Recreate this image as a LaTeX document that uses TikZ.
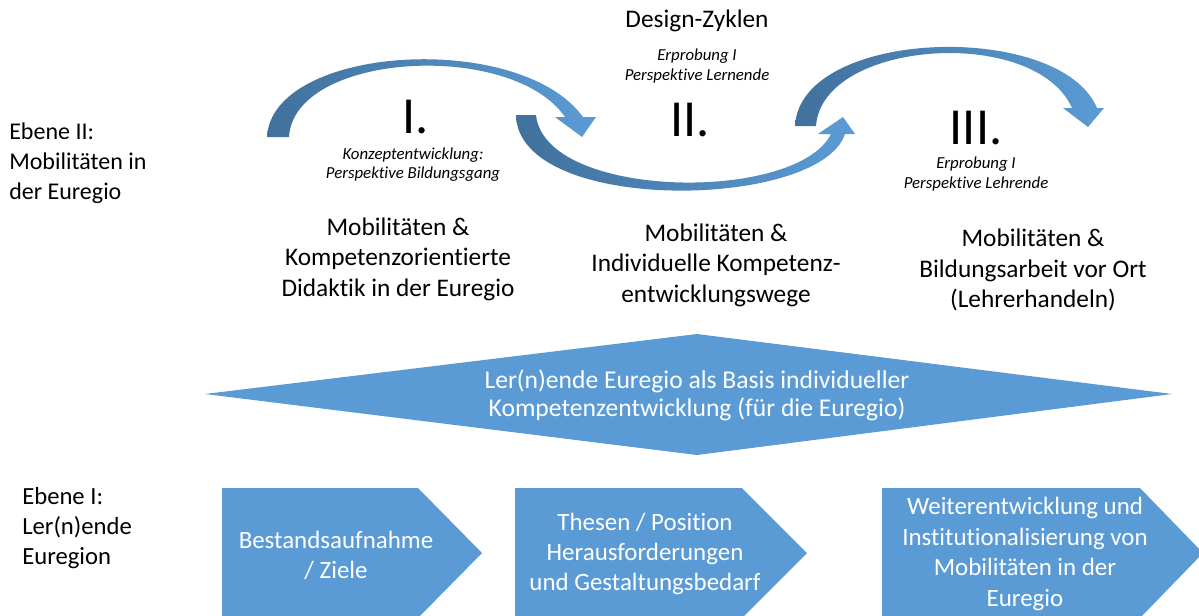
\documentclass[tikz,border=0pt]{standalone}
\usepackage{fontspec}
\setmainfont{Carlito}[Ligatures={NoCommon}]
\usetikzlibrary{positioning}

\definecolor{boxblue}{RGB}{91,155,213}
\definecolor{tailblue}{RGB}{65,113,156}

\begin{document}
\begin{tikzpicture}[x=0.75pt,y=-0.75pt,
	label/.style={align=center,font=\fontsize{19}{22.8}\selectfont,inner sep=0pt},
	note/.style={align=center,font=\fontsize{12.6}{14.3}\selectfont\itshape,inner sep=0pt},
	numeral/.style={font=\fontsize{39}{40}\selectfont,inner sep=0pt},
	inbox/.style={label,text=white},
	cyclearrow/.style={left color=tailblue,right color=boxblue}]
	\clip (0,0) rectangle (1199,615);

	% level II: design cycles
	\node[label]   (title)  at (697,21)  {Design-Zyklen};
	\node[note]    (noteII) at (697,66)  {Erprobung I\\Perspektive Lernende};
	\node[numeral] (numI)   at (416,117) {I.};
	\node[numeral] (numII)  at (690,120) {II.};
	\node[numeral] (numIII) at (976,128) {III.};
	\node[note]    (noteI)  at (413,165) {Konzeptentwicklung:\\Perspektive Bildungsgang};
	\node[note]    (noteIII) at (976,174) {Erprobung I\\Perspektive Lehrende};

	% curved cycle arrows
	\shade[cyclearrow] (267,137) .. controls (272,45) and (520,30) .. (583,117)
		-- (596,117) -- (582,137) -- (555,117) -- (565,117)
		.. controls (512,40) and (294,52) .. (289,137) -- cycle;
	\shade[cyclearrow] (516,115) .. controls (518,215) and (820,210) .. (845,134)
		-- (855,134) -- (843,117) -- (818,134) -- (831,134)
		.. controls (797,203) and (545,200) .. (536,115) -- cycle;
	\shade[cyclearrow] (795,126) .. controls (800,28) and (1060,20) .. (1097,108)
		-- (1104,108) -- (1088,127) -- (1063,108) -- (1072,108)
		.. controls (1035,25) and (822,40) .. (816,126) -- cycle;

	\node[label] (phaseI)   at (398,259)  {Mobilitäten \&\\Kompetenzorientierte\\Didaktik in der Euregio};
	\node[label] (phaseII)  at (716,265)  {Mobilitäten \&\\Individuelle Kompetenz-\\entwicklungswege};
	\node[label] (phaseIII) at (1033,270) {Mobilitäten \&\\Bildungsarbeit vor Ort\\(Lehrerhandeln)};

	\node[label,font=\fontsize{18}{22.5}\selectfont,align=left,anchor=west] (levelII) at (9,163)  {Ebene II:\\Mobilitäten in\\der Euregio};
	\node[label,font=\fontsize{18.5}{22.8}\selectfont,align=left,anchor=west] (levelI)  at (22,528) {Ebene I:\\Ler(n)ende\\Euregion};

	% basis
	\fill[boxblue] (205,394) -- (697,334) -- (1172,394) -- (697,455) -- cycle;
	\node[inbox,font=\fontsize{19.2}{21}\selectfont] (basis) at (697,395)
		{Ler(n)ende Euregio als Basis individueller\\Kompetenzentwicklung (für die Euregio)};

	% level I: steps
	\fill[boxblue] (222,488) -- (418,488) -- (482,553) -- (418,618) -- (222,618) -- cycle;
	\fill[boxblue] (515,488) -- (742,488) -- (807,553) -- (742,618) -- (515,618) -- cycle;
	\fill[boxblue] (882,488) -- (1140,488) -- (1203,553) -- (1140,618) -- (882,618) -- cycle;
	\node[inbox,font=\fontsize{18.7}{22.5}\selectfont] (stepA) at (336,555) {Bestandsaufnahme\\/ Ziele};
	\node[inbox,font=\fontsize{18.7}{22.5}\selectfont] (stepB) at (645,554) {Thesen / Position\\Herausforderungen\\und Gestaltungsbedarf};
	\node[inbox,font=\fontsize{18.7}{23}\selectfont] (stepC) at (1025,554) {Weiterentwicklung und\\Institutionalisierung von\\Mobilitäten in der\\Euregio};
\end{tikzpicture}
\end{document}
